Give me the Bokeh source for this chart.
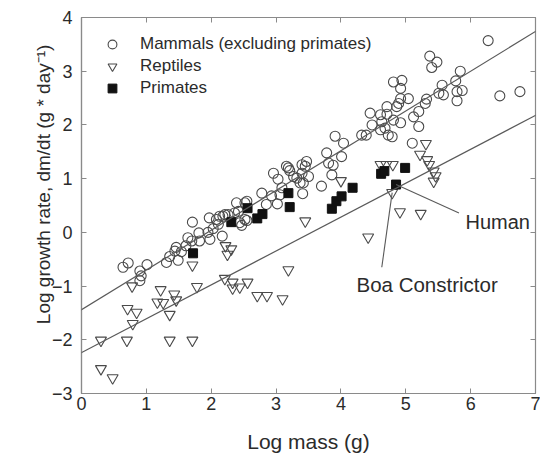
import math
from bokeh.plotting import figure
from bokeh.models import Range1d, LinearAxis, FixedTicker, Slope, Label
from bokeh.embed import file_html
from bokeh.resources import INLINE

# ---------------- data ----------------
mammal_x = [0.64, 0.72, 0.90, 0.92, 0.90, 1.01, 1.31, 1.36, 1.49, 1.44, 1.46, 1.54, 1.61, 1.64,
            1.70, 1.71, 1.81, 1.82, 1.95, 1.98, 1.97, 2.08, 2.03, 2.11, 2.18, 2.17, 2.21, 2.39,
            2.36, 2.52, 2.47, 2.52, 2.42, 2.55, 2.55, 2.44, 2.13, 2.26,
            2.78, 2.85, 2.93, 3.02, 2.96, 3.03, 3.09, 3.06, 3.19, 3.21, 3.16, 3.27, 3.37, 3.41,
            3.40, 3.47, 3.45, 3.40, 3.50, 3.32, 3.42,
            3.70, 3.78, 3.81, 3.88, 3.86, 4.01, 3.91, 4.04, 4.32, 4.39, 4.45, 4.48,
            4.61, 4.71, 4.71, 4.63, 4.68, 4.73, 4.79, 4.61, 4.81, 4.92, 4.89, 4.86, 4.92, 5.04,
            4.81, 4.94, 4.92, 5.12, 5.20, 5.20, 5.10, 5.32, 5.30, 5.37, 5.48, 5.40, 5.56, 5.51,
            5.58, 5.77, 5.84, 5.79, 5.87, 5.79, 6.27, 6.45, 6.76]
mammal_y = [-0.65, -0.57, -0.72, -0.81, -0.90, -0.60, -0.56, -0.45, -0.52, -0.35, -0.28, -0.36, -0.25, -0.10,
            -0.16, 0.19, -0.01, -0.16, 0.00, -0.13, 0.27, 0.24, 0.07, 0.15, 0.30, -0.07, 0.33, 0.55,
            0.36, 0.55, 0.13, 0.24, 0.39, 0.58, 0.22, 0.18, 0.30, 0.33,
            0.73, 0.52, 0.68, 0.53, 1.10, 0.99, 0.83, 0.70, 1.20, 1.15, 1.23, 1.04, 0.92, 0.72,
            1.26, 1.32, 1.23, 1.10, 1.04, 1.01, 0.92,
            0.86, 1.48, 1.29, 1.25, 1.07, 1.41, 1.79, 1.66, 1.81, 1.81, 2.22, 2.00,
            2.19, 2.34, 2.20, 2.06, 1.94, 1.81, 1.78, 1.91, 2.09, 2.04, 2.40, 2.34, 2.49, 2.49,
            2.80, 2.83, 2.68, 2.15, 2.25, 1.97, 1.66, 2.48, 2.40, 3.28, 3.17, 3.07, 2.74, 2.59,
            2.56, 2.82, 3.00, 2.62, 2.64, 2.45, 3.57, 2.54, 2.62]

reptile_x = [0.30, 0.30, 0.48, 0.70, 0.71, 0.85, 0.79, 0.78, 1.22, 1.17, 1.26, 1.43, 1.46, 1.36,
             1.36, 1.71, 1.78, 1.71, 2.21, 2.33, 2.33, 2.44, 2.56, 2.71, 2.86, 3.10, 3.19, 2.22,
             2.25, 2.31, 3.45, 4.00, 4.42, 4.61, 4.70, 4.80, 5.22, 5.31, 5.33, 5.36, 5.43, 5.46,
             5.43, 4.79, 4.91, 5.23]
reptile_y = [-2.01, -2.54, -2.71, -2.01, -1.42, -1.49, -1.70, -1.00, -1.07, -1.30, -1.31, -1.15, -1.26, -1.53,
             -2.01, -2.01, -1.01, -0.61, -0.86, -0.93, -1.04, -1.02, -0.93, -1.18, -1.18, -1.24, -0.70, -0.25,
             -0.41, -0.31, 0.21, 0.96, -0.09, 1.26, 1.26, 1.26, 1.45, 1.65, 1.35, 1.26, 1.14, 1.05,
             0.95, 0.74, 0.38, 0.35]

primate_x = [1.72, 2.31, 2.56, 2.71, 2.79, 3.19, 3.21, 3.86, 3.93, 4.01, 4.18, 4.62, 4.67, 4.99, 4.85]
primate_y = [-0.39, 0.19, 0.45, 0.26, 0.34, 0.73, 0.47, 0.44, 0.58, 0.67, 0.83, 1.09, 1.14, 1.20, 0.89]

# regression fits: (intercept, slope)
mammal_fit = (-1.44, 0.74)
reptile_fit = (-2.24, 0.631)

x_ticks = [0, 1, 2, 3, 4, 5, 6, 7]
y_ticks = [-3, -2, -1, 0, 1, 2, 3, 4]

series_labels = ["Mammals (excluding primates)", "Reptiles", "Primates"]

# annotations: pointer from point to text
human_ptr_x = [4.85, 5.82]
human_ptr_y = [0.89, 0.36]
boa_ptr_x = [4.79, 4.63]
boa_ptr_y = [0.74, -0.65]
human_text_pos = (5.92, 0.20)
boa_text_pos = (4.24, -0.98)

x_label = "Log mass (g)"
y_label = "Log growth rate, dm/dt (g * day\u207b\u00b9)"

# ---------------- styles ----------------
FONT = "Liberation Sans"
TXT = "#2b2b2b"
AX = "#8a8a8a"
MK = "#4a4a4a"
LN = "#5a5a5a"

p = figure(width=540, height=455, output_backend="svg", toolbar_location=None,
           x_range=Range1d(0, 7), y_range=Range1d(-3, 4),
           min_border_left=81, min_border_right=5, min_border_top=17, min_border_bottom=61)
p.grid.visible = False
p.outline_line_color = AX
p.outline_line_width = 1.2
p.background_fill_color = "white"
p.border_fill_color = "white"

for ax in (p.xaxis[0], p.yaxis[0]):
    ax.axis_line_color = AX
    ax.axis_line_width = 1.2
    ax.major_tick_line_color = AX
    ax.major_tick_in = 5
    ax.major_tick_out = 0
    ax.minor_tick_line_color = None
    ax.major_label_text_font = FONT
    ax.major_label_text_font_size = "18px"
    ax.major_label_text_color = TXT
    ax.axis_label_text_font = FONT
    ax.axis_label_text_font_style = "normal"
    ax.axis_label_text_color = TXT
p.xaxis[0].ticker = FixedTicker(ticks=x_ticks)
p.yaxis[0].ticker = FixedTicker(ticks=y_ticks)
p.xaxis[0].major_label_standoff = 3
p.yaxis[0].major_label_standoff = 9
p.xaxis[0].axis_label = x_label
p.xaxis[0].axis_label_text_font_size = "21px"
p.xaxis[0].axis_label_standoff = 17
# leading no-break spaces move the centred label up, as in the reference
p.yaxis[0].axis_label = "\u00a0" * 8 + y_label
p.yaxis[0].axis_label_text_font_size = "19px"
p.yaxis[0].axis_label_standoff = -5

for loc, tks in (("above", x_ticks), ("right", y_ticks)):
    a = LinearAxis(ticker=FixedTicker(ticks=tks), major_tick_in=5, major_tick_out=0,
                   minor_tick_line_color=None, axis_line_color=AX, major_tick_line_color=AX,
                   major_label_text_font_size="0px", major_label_standoff=0)
    p.add_layout(a, loc)

p.add_layout(Slope(gradient=mammal_fit[1], y_intercept=mammal_fit[0], line_color=LN, line_width=1.2))
p.add_layout(Slope(gradient=reptile_fit[1], y_intercept=reptile_fit[0], line_color=LN, line_width=1.2))

p.scatter(mammal_x, mammal_y, marker="circle", size=10, line_color=MK, fill_color=None,
          line_width=1.1, legend_label=series_labels[0])
p.scatter(reptile_x, reptile_y, marker="inverted_triangle", size=11, line_color=MK, fill_color=None,
          line_width=1.1, legend_label=series_labels[1])
p.scatter(primate_x, primate_y, marker="square", size=9, line_color="#111111", fill_color="#111111",
          line_width=1, legend_label=series_labels[2])

p.line(human_ptr_x, human_ptr_y, line_color=LN, line_width=1.1)
p.line(boa_ptr_x, boa_ptr_y, line_color=LN, line_width=1.1)

p.add_layout(Label(x=human_text_pos[0], y=human_text_pos[1], text="Human", text_font=FONT,
                   text_font_size="20px", text_color=TXT, text_baseline="middle", text_align="left"))
p.add_layout(Label(x=boa_text_pos[0], y=boa_text_pos[1], text="Boa Constrictor", text_font=FONT,
                   text_font_size="20.5px", text_color=TXT, text_baseline="middle", text_align="left"))

lg = p.legend[0]
lg.location = "top_left"
lg.border_line_alpha = 0
lg.background_fill_alpha = 0
lg.margin = 0
lg.padding = 16
lg.spacing = 0
lg.glyph_width = 30
lg.glyph_height = 22
lg.label_height = 22
lg.label_standoff = 13
lg.label_text_font = FONT
lg.label_text_font_size = "17px"
lg.label_text_color = TXT

open("out.html", "w").write(file_html(p, INLINE))
